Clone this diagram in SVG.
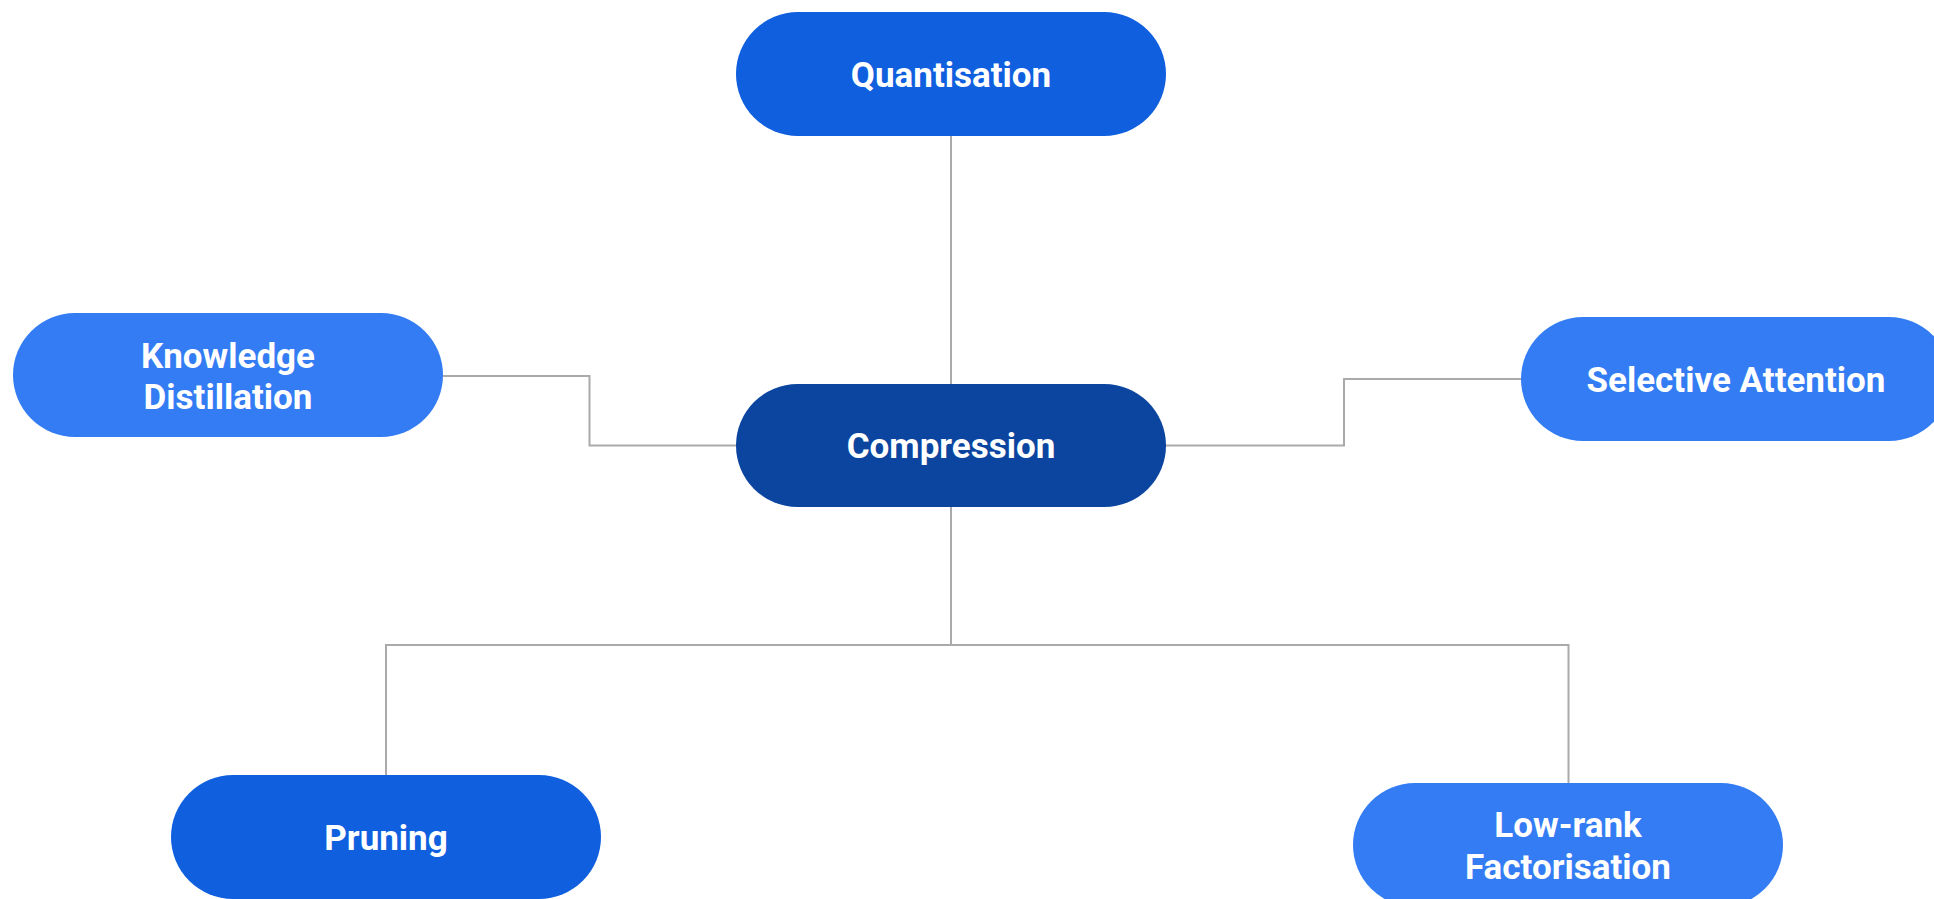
<svg xmlns="http://www.w3.org/2000/svg" width="1934" height="899" viewBox="0 0 1934 899">
  <style>
    .node-primary { fill: #0f5fdf; }
    .node-root { fill: #0b45a0; }
    .node-light { fill: #337cf3; }
    .label { font-family: Roboto, "Liberation Sans", sans-serif; font-weight: bold; font-size: 35px; fill: #ffffff; text-anchor: middle; }
    .wire { fill: none; stroke: #aaaaaa; stroke-width: 2; }
  </style>
  <rect width="1934" height="899" fill="#ffffff"/>

  <g id="connectors">
    <path class="wire" d="M951 136 V384"/>
    <path class="wire" d="M443 376 H589.5 V445.5 H736"/>
    <path class="wire" d="M1166 445.5 H1344 V379 H1521"/>
    <path class="wire" d="M951 507 V645"/>
    <path class="wire" d="M386 775 V645 H1568.5 V783"/>
  </g>

  <g id="quantisation">
    <rect class="node-primary" x="736" y="12" width="430" height="124" rx="62"/>
    <text class="label" x="951" y="87">Quantisation</text>
  </g>

  <g id="compression">
    <rect class="node-root" x="736" y="384" width="430" height="123" rx="61.5"/>
    <text class="label" x="951" y="458">Compression</text>
  </g>

  <g id="knowledge-distillation">
    <rect class="node-light" x="13" y="313" width="430" height="124" rx="62"/>
    <text class="label" x="228" y="368">Knowledge</text>
    <text class="label" x="228" y="409">Distillation</text>
  </g>

  <g id="selective-attention">
    <rect class="node-light" x="1521" y="317" width="430" height="124" rx="62"/>
    <text class="label" x="1736" y="392">Selective Attention</text>
  </g>

  <g id="pruning">
    <rect class="node-primary" x="171" y="775" width="430" height="124" rx="62"/>
    <text class="label" x="386" y="850">Pruning</text>
  </g>

  <g id="low-rank-factorisation">
    <rect class="node-light" x="1353" y="783" width="430" height="124" rx="62"/>
    <text class="label" x="1568" y="837">Low-rank</text>
    <text class="label" x="1568" y="879">Factorisation</text>
  </g>
</svg>
